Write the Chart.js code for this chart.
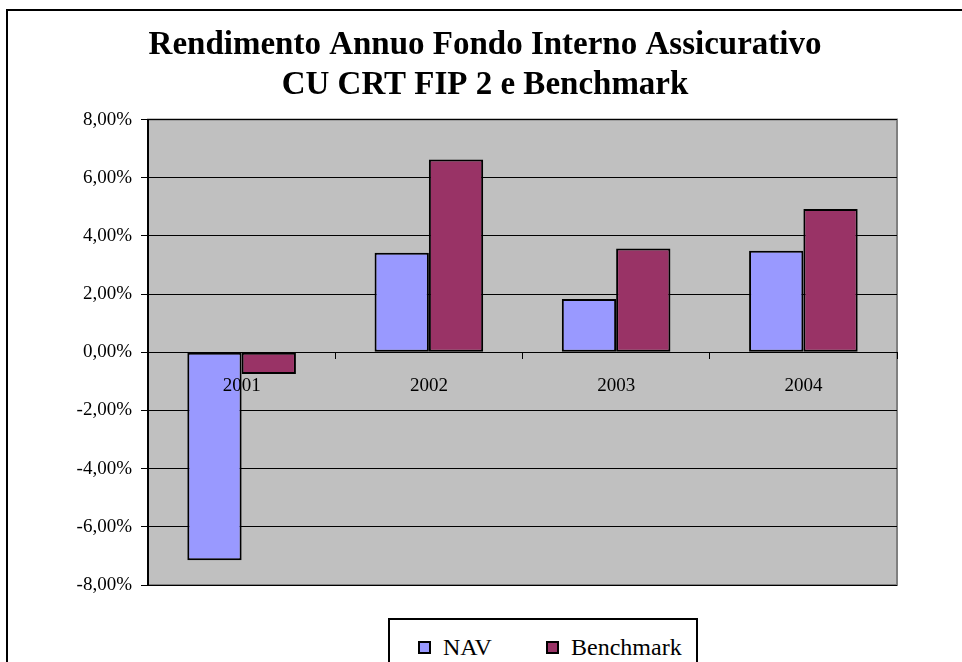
<!DOCTYPE html>
<html lang="it">
<head>
    <meta charset="UTF-8">
    <title>Rendimento Annuo Fondo Interno Assicurativo</title>
    <script src="https://cdn.jsdelivr.net/npm/chart.js"></script>
    <style>
        html, body {
            margin: 0;
            padding: 0;
            background: #ffffff;
            overflow: hidden;
        }
        .frame {
            position: absolute;
            left: 6px;
            top: 9px;
            width: 1000px;
            height: 700px;
            border: 2px solid #000;
            box-sizing: border-box;
            pointer-events: none;
        }
        .chart-box {
            position: absolute;
            left: 0;
            top: 0;
            width: 962px;
            height: 662px;
        }
        .legend {
            position: absolute;
            left: 388px;
            top: 618px;
            width: 310px;
            height: 70px;
            border: 2px solid #000;
            box-sizing: border-box;
            background: #fff;
            font-family: "Liberation Serif", "Times New Roman", serif;
            font-size: 24px;
            color: #000;
        }
        .legend .item {
            position: absolute;
            top: 14px;
            display: flex;
            align-items: center;
            line-height: 26px;
        }
        .legend .swatch {
            width: 9px;
            height: 9px;
            border: 2px solid #000;
            margin-right: 12px;
        }
    </style>
</head>
<body>
    <div class="chart-box">
        <canvas id="fundChart" width="962" height="662"></canvas>
    </div>
    <div class="legend" id="legend"></div>
    <div class="frame"></div>

    <script>
        // values in percent
        const years = ['2001', '2002', '2003', '2004'];
        const navValues = [-7.15, 3.42, 1.83, 3.49];
        const benchmarkValues = [-0.75, 6.63, 3.57, 4.92];
        const seriesNames = ['NAV', 'Benchmark'];
        const seriesColors = ['#9999ff', '#993366'];

        const serif = '"Liberation Serif", "Times New Roman", serif';

        // grey plot area with a thin darker edge
        const plotBackground = {
            id: 'plotBackground',
            beforeDraw(chart) {
                const a = chart.chartArea;
                const ctx = chart.ctx;
                ctx.save();
                ctx.fillStyle = '#c0c0c0';
                ctx.fillRect(a.left, a.top, a.right - a.left, a.bottom - a.top);
                ctx.strokeStyle = '#808080';
                ctx.lineWidth = 2;
                ctx.strokeRect(a.left, a.top, a.right - a.left, a.bottom - a.top);
                ctx.restore();
            }
        };

        const ctx = document.getElementById('fundChart').getContext('2d');
        new Chart(ctx, {
            type: 'bar',
            data: {
                labels: years,
                datasets: [{
                    label: seriesNames[0],
                    data: navValues,
                    backgroundColor: seriesColors[0],
                    borderColor: '#000',
                    borderWidth: 2,
                    borderSkipped: false
                }, {
                    label: seriesNames[1],
                    data: benchmarkValues,
                    backgroundColor: seriesColors[1],
                    borderColor: '#000',
                    borderWidth: 2,
                    borderSkipped: false
                }]
            },
            options: {
                responsive: false,
                animation: false,
                categoryPercentage: 0.58,
                barPercentage: 1.0,
                layout: {
                    padding: { left: 8, right: 0, top: 0, bottom: 77 }
                },
                plugins: {
                    legend: { display: false },
                    tooltip: { enabled: false },
                    title: {
                        display: true,
                        text: ['Rendimento Annuo Fondo Interno Assicurativo', 'CU CRT FIP 2 e Benchmark'],
                        color: '#000',
                        font: { family: serif, size: 33, weight: 'bold', lineHeight: 1.22 },
                        padding: { top: 25, bottom: 14 }
                    }
                },
                scales: {
                    x: {
                        position: { y: 0 },
                        afterFit(scale) { scale.height = 0; },
                        grid: {
                            display: true,
                            offset: true,
                            drawOnChartArea: false,
                            drawTicks: true,
                            tickLength: 6,
                            color: '#000'
                        },
                        border: { display: true, color: '#000', width: 1 },
                        ticks: {
                            z: 1, // year labels sit on top of the bars
                            color: '#000',
                            padding: 16,
                            font: { family: serif, size: 19 }
                        }
                    },
                    y: {
                        min: -8,
                        max: 8,
                        afterFit(scale) { scale.width = 140; },
                        grid: {
                            color: '#000',
                            lineWidth: 1,
                            drawTicks: true,
                            tickLength: 7
                        },
                        border: { display: true, color: '#000', width: 2 },
                        ticks: {
                            stepSize: 2,
                            color: '#000',
                            padding: 9,
                            font: { family: serif, size: 19 },
                            callback: v => v.toFixed(2).replace('.', ',') + '%'
                        }
                    },
                    // empty right-hand space so the title centres like the original
                    spacer: {
                        type: 'linear',
                        position: 'right',
                        afterFit(scale) { scale.width = 65; },
                        grid: { display: false },
                        border: { display: false },
                        ticks: { display: false }
                    }
                }
            },
            plugins: [plotBackground]
        });

        // legend box under the plot, built from the series arrays
        const legendEl = document.getElementById('legend');
        const legendLeft = [28, 156];
        seriesNames.forEach((name, i) => {
            const item = document.createElement('div');
            item.className = 'item';
            item.style.left = legendLeft[i] + 'px';
            const sw = document.createElement('span');
            sw.className = 'swatch';
            sw.style.background = seriesColors[i];
            const txt = document.createElement('span');
            txt.textContent = name;
            item.appendChild(sw);
            item.appendChild(txt);
            legendEl.appendChild(item);
        });
    </script>
</body>
</html>
